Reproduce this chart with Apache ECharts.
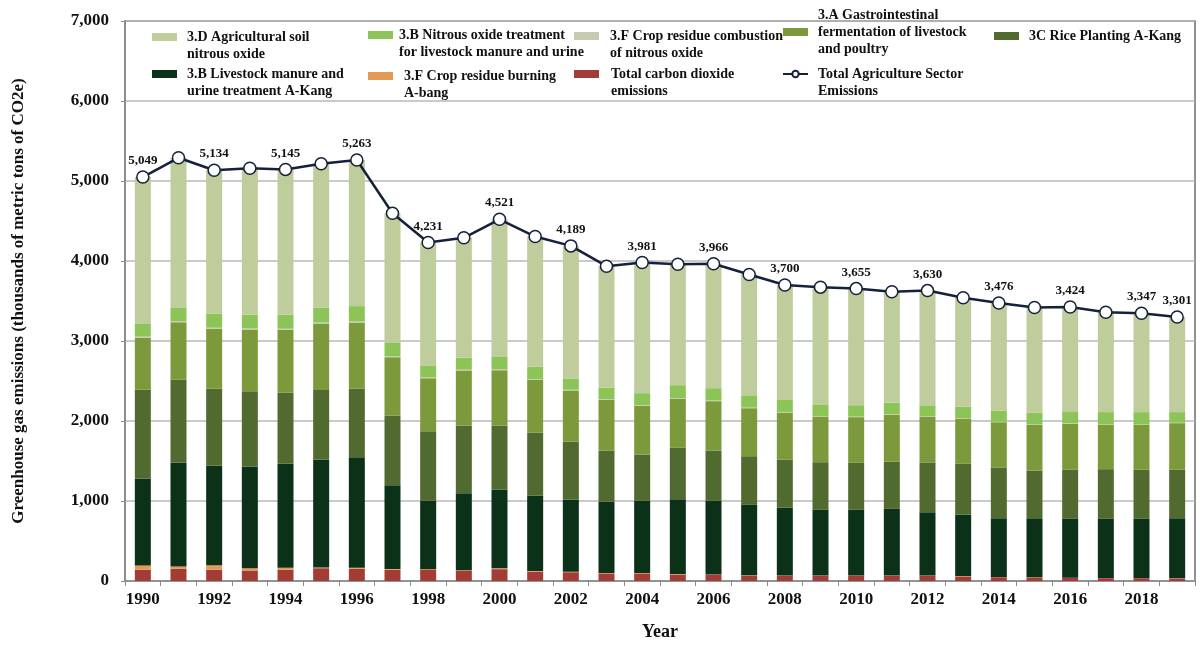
<!DOCTYPE html>
<html>
<head>
<meta charset="utf-8">
<script src="https://cdn.jsdelivr.net/npm/echarts@6/dist/echarts.min.js"></script>
<style>
  html, body { margin: 0; padding: 0; background: #ffffff; }
  #chart { width: 1200px; height: 646px; }
</style>
</head>
<body>
<div id="chart"></div>
<script>
// Agricultural greenhouse gas emissions by source, thousands of metric tons CO2e
const years = ['1990','1991','1992','1993','1994','1995','1996','1997','1998','1999',
               '2000','2001','2002','2003','2004','2005','2006','2007','2008','2009',
               '2010','2011','2012','2013','2014','2015','2016','2017','2018','2019'];

const co2Total = [140,152,140,131,140,160,152,140,140,128,148,118,110,95,95,82,78,68,66,65,66,65,66,58,48,44,40,36,36,34];
const residueBurning = [55,30,58,29,25,8,14,10,8,7,10,6,6,5,5,4,4,3,3,3,3,3,3,3,2,2,2,2,2,2];
const livestockManure = [1082,1295,1242,1271,1300,1347,1382,1048,858,963,982,941,899,890,906,937,924,881,850,822,821,834,791,770,735,739,735,739,739,749];
const ricePlanting = [1113,1038,966,942,887,883,858,871,867,842,800,791,729,641,575,642,625,608,596,595,587,588,617,634,630,596,617,621,613,605];
const entericFermentation = [650,720,746,771,788,821,825,729,662,691,695,659,637,634,609,612,617,600,591,571,571,587,579,566,570,575,571,558,566,583];
const residueCombustionN2O = [14,14,14,13,13,13,13,11,10,10,10,9,9,8,8,8,8,7,7,7,7,7,6,6,6,6,6,5,5,5];
const manureN2O = [166,171,175,171,175,187,192,167,150,150,155,154,142,145,150,163,154,146,150,138,142,146,134,142,138,142,141,150,150,133];
const soilN2O = [1829,1870,1793,1832,1817,1796,1827,1621,1536,1499,1721,1628,1657,1517,1633,1512,1556,1518,1437,1472,1458,1385,1434,1361,1347,1314,1312,1249,1236,1190];
const sectorTotal = [5049,5290,5134,5160,5145,5215,5263,4597,4231,4290,4521,4306,4189,3935,3981,3960,3966,3831,3700,3673,3655,3615,3630,3540,3476,3418,3424,3360,3347,3301];

const yTicks = [0, 1000, 2000, 3000, 4000, 5000, 6000, 7000];

const SERIF = '"Liberation Serif", "Times New Roman", serif';

const N = {
  co2: 'Total carbon dioxide emissions',
  burn: '3.F Crop residue burning A-bang',
  manure: '3.B Livestock manure and urine treatment A-Kang',
  rice: '3C Rice Planting A-Kang',
  enteric: '3.A Gastrointestinal fermentation of livestock and poultry',
  comb: '3.F Crop residue combustion of nitrous oxide',
  manureN2O: '3.B Nitrous oxide treatment for livestock manure and urine',
  soil: '3.D Agricultural soil nitrous oxide',
  total: 'Total Agriculture Sector Emissions'
};

function barSeries(name, data, color) {
  return {
    name: name,
    type: 'bar',
    stack: 'sources',
    data: data,
    barWidth: 16,
    itemStyle: { color: color },
    emphasis: { disabled: true }
  };
}

// Stack order, bottom to top
const series = [
  barSeries(N.co2, co2Total, '#a33c35'),
  barSeries(N.burn, residueBurning, '#e29a56'),
  barSeries(N.manure, livestockManure, '#0b3119'),
  barSeries(N.rice, ricePlanting, '#506a30'),
  barSeries(N.enteric, entericFermentation, '#7c9a3c'),
  barSeries(N.comb, residueCombustionN2O, '#c5ccb1'),
  barSeries(N.manureN2O, manureN2O, '#8cc457'),
  barSeries(N.soil, soilN2O, '#bfcc9b'),
  {
    name: N.total,
    type: 'line',
    data: sectorTotal,
    z: 5,
    symbol: 'circle',
    symbolSize: 12,
    lineStyle: { color: '#15213b', width: 2.5 },
    itemStyle: { color: '#ffffff', borderColor: '#15213b', borderWidth: 1.5 },
    emphasis: { disabled: true },
    label: {
      show: true,
      position: 'top',
      distance: 3,
      fontFamily: SERIF,
      fontWeight: 'bold',
      fontSize: 13,
      color: '#111111',
      formatter: function (p) {
        const last = sectorTotal.length - 1;
        if (p.dataIndex % 2 === 0 || p.dataIndex === last) {
          return p.value.toLocaleString('en-US');
        }
        return '';
      }
    }
  }
];

// One legend block per entry so the multi-line entries sit in a fixed grid.
// The icon is vertically centred on the text block, so blank leading lines
// bring the chosen text line (anchor) level with the icon.
const LINE_H = 17;
const legendEntries = [
  { name: N.soil,      text: '3.D Agricultural soil\nnitrous oxide',                          x: 152, y: 37, gap: 10, lines: 2, anchor: 1 },
  { name: N.manureN2O, text: '3.B Nitrous oxide treatment\nfor livestock manure and urine',   x: 368, y: 35, gap: 6,  lines: 2, anchor: 1 },
  { name: N.comb,      text: '3.F Crop residue combustion\nof nitrous oxide',                 x: 574, y: 36, gap: 11, lines: 2, anchor: 1 },
  { name: N.enteric,   text: '3.A Gastrointestinal\nfermentation of livestock\nand poultry', x: 783, y: 32, gap: 10, lines: 3, anchor: 2 },
  { name: N.rice,      text: '3C Rice Planting A-Kang',                                       x: 994, y: 36, gap: 10, lines: 1, anchor: 1 },
  { name: N.manure,    text: '3.B Livestock manure and\nurine treatment A-Kang',              x: 152, y: 74, gap: 10, lines: 2, anchor: 1 },
  { name: N.burn,      text: '3.F Crop residue burning\nA-bang',                              x: 368, y: 76, gap: 11, lines: 2, anchor: 1 },
  { name: N.co2,       text: 'Total carbon dioxide\nemissions',                               x: 574, y: 74, gap: 12, lines: 2, anchor: 1 },
  { name: N.total,     text: 'Total Agriculture Sector\nEmissions',                           x: 782, y: 74, gap: 10, lines: 2, anchor: 1 }
];

const legends = legendEntries.map(function (e) {
  const blank = e.lines + 1 - 2 * e.anchor;
  const shown = '\n'.repeat(blank) + e.text;
  const halfBlock = (blank + e.lines) * LINE_H / 2;
  return {
    data: [e.name],
    left: e.x,
    top: e.y - halfBlock,
    padding: 0,
    itemWidth: 25,
    itemHeight: 8,
    itemGap: 0,
    selectedMode: false,
    icon: e.name === N.total ? undefined : 'rect',
    formatter: function () { return shown; },
    textStyle: {
      fontFamily: SERIF,
      fontWeight: 'bold',
      fontSize: 14,
      lineHeight: LINE_H,
      color: '#111111',
      padding: [0, 0, 0, e.gap - 5]
    }
  };
});

const chart = echarts.init(document.getElementById('chart'), null, { renderer: 'canvas' });

chart.setOption({
  backgroundColor: '#ffffff',
  animation: false,
  legend: legends,
  grid: {
    left: 125,
    right: 5,
    top: 21,
    bottom: 65,
    show: true,
    borderColor: '#6f6f6f',
    borderWidth: 1.5,
    backgroundColor: 'transparent'
  },
  xAxis: {
    type: 'category',
    data: years,
    name: 'Year',
    nameLocation: 'middle',
    nameGap: 42,
    nameTextStyle: { fontFamily: SERIF, fontWeight: 'bold', fontSize: 18, color: '#111111' },
    axisLine: { lineStyle: { color: '#8a8a8a', width: 1.5 } },
    axisTick: { show: true, interval: 0, length: 5, lineStyle: { color: '#8a8a8a' } },
    axisLabel: {
      interval: 1,
      margin: 10,
      fontFamily: SERIF,
      fontWeight: 'bold',
      fontSize: 17,
      color: '#111111'
    },
    splitLine: { show: false }
  },
  yAxis: {
    type: 'value',
    min: yTicks[0],
    max: yTicks[yTicks.length - 1],
    interval: yTicks[1] - yTicks[0],
    name: 'Greenhouse gas emissions (thousands of metric tons of CO2e)',
    nameLocation: 'middle',
    nameGap: 98,
    nameTextStyle: { fontFamily: SERIF, fontWeight: 'bold', fontSize: 17, color: '#111111' },
    axisLine: { show: true, lineStyle: { color: '#8a8a8a', width: 1.5 } },
    axisTick: { show: true, length: 4, lineStyle: { color: '#8a8a8a' } },
    axisLabel: {
      margin: 16,
      fontFamily: SERIF,
      fontWeight: 'bold',
      fontSize: 17,
      color: '#111111',
      formatter: function (v) { return v.toLocaleString('en-US'); }
    },
    splitLine: { show: true, lineStyle: { color: '#b9b9b9', width: 1.5 } }
  },
  series: series
});
</script>
</body>
</html>
